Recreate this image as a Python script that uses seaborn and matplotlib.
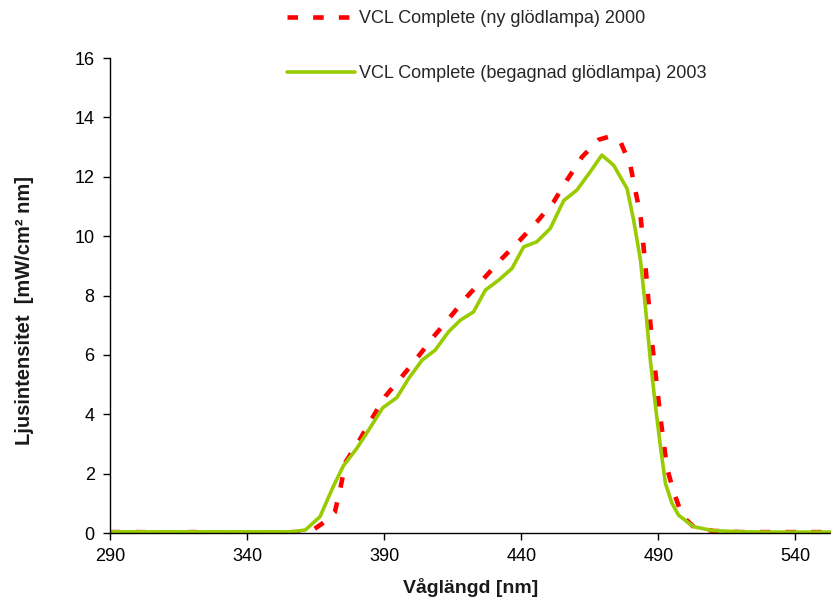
import matplotlib
matplotlib.use("Agg")
import matplotlib.pyplot as plt
import seaborn as sns
import pandas as pd

# ---- data ----
wl_2000 = [290, 300, 310, 320, 330, 340, 350, 360, 364, 367.9, 372, 374, 376, 381,
           385.5, 390.4, 396.4, 401.9, 408, 414.1, 420.2, 426.9, 433, 439.6, 445.7,
           451.8, 456.7, 462.2, 468.3, 472, 476.2, 479.8, 481.6, 483.5, 485.3, 487.7,
           490.8, 493.2, 495.6, 498.7, 503, 510, 520, 530, 540, 550, 560]
int_2000 = [0.03, 0.03, 0.02, 0.03, 0.02, 0.02, 0.02, 0.03, 0.1, 0.35, 0.7, 1.5, 2.4, 3.13,
            3.85, 4.6, 5.26, 5.88, 6.61, 7.28, 7.96, 8.63, 9.25, 9.87, 10.48,
            11.15, 11.89, 12.67, 13.25, 13.35, 13.18, 12.39, 11.55, 10.7, 9.0, 6.44,
            3.86, 2.18, 1.39, 0.58, 0.2, 0.07, 0.03, 0.03, 0.03, 0.03, 0.03]

wl_2003 = [290, 300, 310, 320, 330, 340, 350, 356, 361.2, 366.6, 371.4, 375.1, 380,
           384.9, 389.5, 394.6, 398.9, 403.8, 408.6, 413.5, 417.8, 422.6, 426.9, 431.8,
           436.6, 440.9, 445.7, 450.6, 455.5, 460.3, 465.2, 469.4, 473.7, 478.6, 481,
           483.5, 485.3, 487.1, 489, 490.8, 492.6, 495, 497.4, 502.9, 510, 520, 530,
           540, 550, 560]
int_2003 = [0.04, 0.04, 0.04, 0.04, 0.04, 0.04, 0.04, 0.04, 0.1, 0.55, 1.56, 2.26, 2.85,
            3.55, 4.22, 4.56, 5.2, 5.82, 6.16, 6.78, 7.17, 7.45, 8.18, 8.52,
            8.91, 9.64, 9.81, 10.26, 11.2, 11.55, 12.17, 12.73, 12.39, 11.6, 10.54,
            9.19, 7.62, 5.82, 4.25, 2.9, 1.67, 1.0, 0.6, 0.21, 0.08, 0.04, 0.03,
            0.03, 0.03, 0.03]

label_2000 = "VCL Complete (ny glödlampa) 2000"
label_2003 = "VCL Complete (begagnad glödlampa) 2003"
x_ticks = [290, 340, 390, 440, 490, 540]
y_ticks = [0, 2, 4, 6, 8, 10, 12, 14, 16]
x_title = "Våglängd [nm]"
y_title = "Ljusintensitet  [mW/cm² nm]"

df_2000 = pd.DataFrame({"wl": wl_2000, "val": int_2000})
df_2003 = pd.DataFrame({"wl": wl_2003, "val": int_2003})

sns.set_theme(style="white")
plt.rcParams['font.family'] = ['Liberation Sans', 'DejaVu Sans']

fig = plt.figure(figsize=(8.31, 6.07), dpi=100)
ax = fig.add_axes([0.1324, 0.1219, 0.8676, 0.7825])

sns.lineplot(data=df_2000, x="wl", y="val", ax=ax, color="#FF0000", lw=3.3,
             linestyle=(0, (2.3, 3.3)), dash_capstyle="butt", sort=False,
             label=label_2000)
sns.lineplot(data=df_2003, x="wl", y="val", ax=ax, color="#99CC00", lw=2.6,
             sort=False, label=label_2003)

ax.set_xlim(290, 553)
ax.set_ylim(0, 16)
ax.set_xticks(x_ticks)
ax.set_yticks(y_ticks)
ax.tick_params(direction="out", length=5, width=1, colors="black",
               labelsize=13, pad=6, bottom=True, left=True)
for s in ["top", "right"]:
    ax.spines[s].set_visible(False)
for s in ["left", "bottom"]:
    ax.spines[s].set_color("black")
    ax.spines[s].set_linewidth(1)

ax.set_xlabel(x_title, fontsize=14, fontweight="bold", color="#1a1a1a")
ax.set_ylabel(y_title, fontsize=14.5, fontweight="bold", color="#1a1a1a")
ax.xaxis.set_label_coords(0.5, -0.095)
ax.yaxis.set_label_coords(-0.106, 0.469)

handles, labels = ax.get_legend_handles_labels()
ax.get_legend().remove()
fig.legend(handles, labels, loc="upper left", bbox_to_anchor=(0.345, 0.983),
           frameon=False, fontsize=13, handlelength=3.8, handletextpad=0.2,
           labelspacing=2.1, borderpad=0, borderaxespad=0)

fig.savefig("out.png", dpi=100, facecolor="white")
